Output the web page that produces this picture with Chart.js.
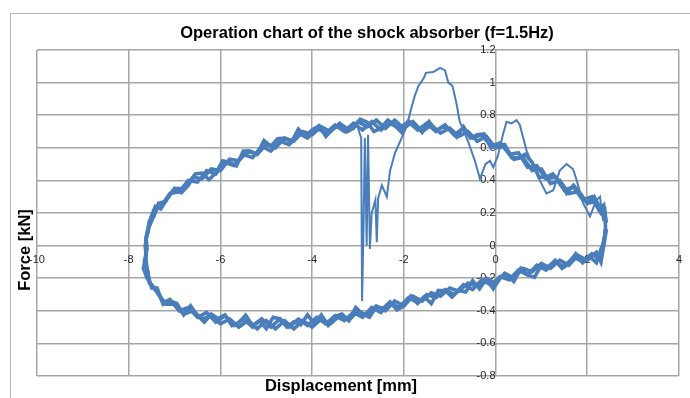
<!DOCTYPE html>
<html>
<head>
<meta charset="utf-8">
<script src="https://cdn.jsdelivr.net/npm/chart.js@4.4.1/dist/chart.umd.min.js"></script>
<style>
  html, body { margin: 0; padding: 0; background: #fff; }
  #wrap { width: 690px; height: 398px; }
</style>
</head>
<body>
<div id="wrap"><canvas id="myChart" width="690" height="398"></canvas></div>
<script>
// labels
const chartTitle = 'Operation chart of the shock absorber (f=1.5Hz)';
const xTitle = 'Displacement [mm]';
const yTitle = 'Force [kN]';

// cycle 1 - displacement [mm] / force [kN]
const disp1 = [2.40, 2.38, 2.30, 2.20, 2.00, 1.80, 1.60, 1.40, 1.20, 1.00, 0.80, 0.60, 0.40, 0.20, 0.00,
  -0.20, -0.40, -0.60, -0.80, -1.00, -1.20, -1.40, -1.60, -1.80, -2.00, -2.20, -2.40, -2.60, -2.80, -3.00,
  -3.20, -3.40, -3.60, -3.80, -4.00, -4.20, -4.40, -4.60, -4.80, -5.00, -5.20, -5.40, -5.60, -5.80, -6.00,
  -6.20, -6.40, -6.60, -6.80, -7.00, -7.20, -7.35, -7.45, -7.55, -7.62, -7.60, -7.66, -7.58, -7.55,
  -7.40, -7.25, -7.10, -6.90, -6.70, -6.50, -6.30, -6.10, -5.90, -5.70, -5.50, -5.30, -5.10, -4.90, -4.70,
  -4.50, -4.30, -4.10, -3.90, -3.70, -3.50, -3.30, -3.10, -2.90, -2.70, -2.50, -2.30, -2.10, -1.90, -1.70,
  -1.50, -1.30, -1.10, -0.90, -0.70, -0.50, -0.30, -0.10, 0.10, 0.30, 0.50, 0.70, 0.90, 1.10, 1.30,
  1.50, 1.70, 1.90, 2.10, 2.25, 2.32, 2.38, 2.40];
const force1 = [0.10, 0.22, 0.20, 0.27, 0.26, 0.33, 0.32, 0.40, 0.38, 0.47, 0.46, 0.54, 0.53, 0.61, 0.60,
  0.67, 0.64, 0.70, 0.67, 0.72, 0.69, 0.74, 0.70, 0.76, 0.72, 0.77, 0.72, 0.77, 0.73, 0.76,
  0.71, 0.75, 0.70, 0.73, 0.68, 0.70, 0.64, 0.66, 0.60, 0.62, 0.56, 0.58, 0.52, 0.53, 0.46,
  0.47, 0.41, 0.42, 0.35, 0.35, 0.27, 0.26, 0.18, 0.15, 0.05, -0.02, -0.10, -0.16, -0.23,
  -0.27, -0.35, -0.33, -0.40, -0.38, -0.44, -0.41, -0.47, -0.43, -0.49, -0.45, -0.50, -0.45, -0.50, -0.45,
  -0.50, -0.45, -0.49, -0.44, -0.48, -0.43, -0.46, -0.41, -0.44, -0.38, -0.41, -0.35, -0.38, -0.32, -0.35,
  -0.30, -0.32, -0.27, -0.30, -0.24, -0.27, -0.21, -0.24, -0.19, -0.21, -0.15, -0.18, -0.12, -0.15, -0.10,
  -0.13, -0.07, -0.10, -0.05, -0.08, -0.02, 0.06, 0.12];

// cycle 2
const disp2 = [2.42, 2.36, 2.25, 2.10, 1.90, 1.70, 1.50, 1.30, 1.10, 0.90, 0.70, 0.50, 0.30, 0.10, -0.10,
  -0.30, -0.50, -0.70, -0.90, -1.10, -1.30, -1.50, -1.70, -1.90, -2.10, -2.30, -2.50, -2.70, -2.90, -3.10,
  -3.30, -3.50, -3.70, -3.90, -4.10, -4.30, -4.50, -4.70, -4.90, -5.10, -5.30, -5.50, -5.70, -5.90, -6.10,
  -6.30, -6.50, -6.70, -6.90, -7.10, -7.30, -7.40, -7.50, -7.58, -7.64, -7.62, -7.68, -7.60,
  -7.48, -7.32, -7.18, -7.00, -6.80, -6.60, -6.40, -6.20, -6.00, -5.80, -5.60, -5.40, -5.20, -5.00, -4.80,
  -4.60, -4.40, -4.20, -4.00, -3.80, -3.60, -3.40, -3.20, -3.00, -2.80, -2.60, -2.40, -2.20, -2.00, -1.80,
  -1.60, -1.40, -1.20, -1.00, -0.80, -0.60, -0.40, -0.20, 0.00, 0.20, 0.40, 0.60, 0.80, 1.00, 1.20,
  1.40, 1.60, 1.80, 2.00, 2.20, 2.30, 2.36, 2.42];
const force2 = [0.14, 0.25, 0.22, 0.30, 0.28, 0.36, 0.34, 0.42, 0.41, 0.49, 0.48, 0.57, 0.56, 0.63, 0.61,
  0.68, 0.66, 0.72, 0.68, 0.74, 0.70, 0.75, 0.71, 0.76, 0.72, 0.75, 0.71, 0.76, 0.71, 0.75,
  0.70, 0.74, 0.69, 0.72, 0.66, 0.69, 0.62, 0.64, 0.58, 0.61, 0.54, 0.56, 0.49, 0.51, 0.44,
  0.46, 0.39, 0.40, 0.33, 0.32, 0.24, 0.22, 0.15, 0.10, 0.00, -0.06, -0.14, -0.20,
  -0.25, -0.31, -0.36, -0.36, -0.42, -0.40, -0.45, -0.43, -0.48, -0.45, -0.50, -0.46, -0.51, -0.46, -0.51,
  -0.46, -0.51, -0.46, -0.50, -0.45, -0.48, -0.43, -0.46, -0.40, -0.43, -0.37, -0.40, -0.34, -0.37, -0.31,
  -0.34, -0.29, -0.31, -0.26, -0.28, -0.23, -0.25, -0.20, -0.23, -0.17, -0.20, -0.14, -0.16, -0.11, -0.14,
  -0.09, -0.12, -0.06, -0.09, -0.04, -0.10, 0.00, 0.10];

// cycle 3
const disp3 = [2.38, 2.30, 2.15, 2.00, 1.85, 1.70, 1.55, 1.40, 1.25, 1.10, 0.95, 0.80, 0.65, 0.50, 0.35,
  0.20, 0.05, -0.10, -0.25, -0.40, -0.55, -0.70, -0.85, -1.00, -1.15, -1.30, -1.45, -1.60, -1.75, -1.90,
  -2.05, -2.20, -2.35, -2.50, -2.65, -2.80, -2.95, -3.10, -3.25, -3.40, -3.55, -3.70, -3.85, -4.00, -4.15,
  -4.30, -4.45, -4.60, -4.75, -4.90, -5.05, -5.20, -5.35, -5.50, -5.65, -5.80, -5.95, -6.10, -6.25, -6.40,
  -6.55, -6.70, -6.85, -7.00, -7.15, -7.30, -7.42, -7.52, -7.58, -7.62, -7.63, -7.61, -7.57,
  -7.50, -7.38, -7.25, -7.10, -6.95, -6.80, -6.65, -6.50, -6.35, -6.20, -6.05, -5.90, -5.75, -5.60, -5.45,
  -5.30, -5.15, -5.00, -4.85, -4.70, -4.55, -4.40, -4.25, -4.10, -3.95, -3.80, -3.65, -3.50, -3.35, -3.20,
  -3.05, -2.90, -2.75, -2.60, -2.45, -2.30, -2.15, -2.00, -1.85, -1.70, -1.55, -1.40, -1.25, -1.10, -0.95,
  -0.80, -0.65, -0.50, -0.35, -0.20, -0.05, 0.10, 0.25, 0.40, 0.55, 0.70, 0.85, 1.00, 1.15, 1.30,
  1.45, 1.60, 1.75, 1.90, 2.05, 2.20, 2.30, 2.36, 2.40];
const force3 = [0.17, 0.22, 0.30, 0.26, 0.32, 0.37, 0.32, 0.39, 0.44, 0.42, 0.42, 0.51, 0.56, 0.54, 0.54,
  0.62, 0.62, 0.60, 0.685, 0.68, 0.66, 0.73, 0.665, 0.71, 0.73, 0.705, 0.76, 0.695, 0.74, 0.765,
  0.695, 0.74, 0.77, 0.72, 0.70, 0.757, 0.775, 0.72, 0.697, 0.74, 0.715, 0.67, 0.735, 0.71, 0.67,
  0.715, 0.635, 0.66, 0.655, 0.61, 0.645, 0.56, 0.58, 0.58, 0.49, 0.51, 0.52, 0.445, 0.405, 0.445,
  0.44, 0.37, 0.325, 0.35, 0.295, 0.225, 0.24, 0.17, 0.08, 0.05, -0.05, -0.12, -0.19,
  -0.26, -0.26, -0.36, -0.34, -0.355, -0.425, -0.37, -0.43, -0.47, -0.42, -0.448, -0.425, -0.49, -0.475, -0.427,
  -0.49, -0.46, -0.51, -0.44, -0.45, -0.50, -0.468, -0.486, -0.425, -0.48, -0.425, -0.49, -0.435, -0.42, -0.46,
  -0.38, -0.42, -0.44, -0.375, -0.385, -0.345, -0.395, -0.37, -0.31, -0.355, -0.315, -0.355, -0.275, -0.275, -0.315,
  -0.275, -0.285, -0.215, -0.265, -0.205, -0.265, -0.20, -0.18, -0.22, -0.14, -0.18, -0.195, -0.12, -0.13, -0.09,
  -0.14, -0.11, -0.05, -0.105, -0.065, -0.105, -0.02, 0.02, 0.10];

// single disturbed pass (thin line)
const disp4 = [2.35, 2.31, 2.28, 2.20, 2.06, 1.91, 1.77, 1.69, 1.55, 1.40, 1.26, 1.11, 0.93, 0.68, 0.53,
  0.46, 0.35, 0.24, 0.17, 0.05, -0.05, -0.12, -0.22, -0.34, -0.45, -0.60, -0.70, -0.78, -0.85, -0.94,
  -1.03, -1.10, -1.21, -1.36, -1.52, -1.56, -1.68, -1.76, -1.83, -1.94, -2.08, -2.19, -2.30, -2.37, -2.48,
  -2.56, -2.59, -2.62, -2.70, -2.74, -2.78, -2.81, -2.85, -2.88, -2.91, -2.93, -3.00];
const force4 = [0.15, 0.22, 0.30, 0.28, 0.18, 0.26, 0.40, 0.47, 0.50, 0.46, 0.34, 0.32, 0.42, 0.58, 0.74,
  0.77, 0.75, 0.76, 0.69, 0.55, 0.48, 0.52, 0.50, 0.41, 0.52, 0.64, 0.71, 0.76, 0.87, 0.98,
  1.00, 1.075, 1.09, 1.065, 1.06, 1.03, 0.98, 0.92, 0.85, 0.73, 0.64, 0.57, 0.46, 0.30, 0.37,
  0.29, 0.02, 0.28, 0.20, -0.02, 0.68, 0.00, 0.66, 0.10, -0.34, 0.66, 0.72];

function toPoints(xs, ys) {
  return xs.map((x, i) => ({ x: x, y: ys[i] }));
}

const lineColor = '#4a7ebb';
const fontFamily = '"Liberation Sans", Arial, sans-serif';

const textPlugin = {
  id: 'texts',
  beforeDraw(chart) {
    const c = chart.ctx;
    c.save();
    c.fillStyle = '#fff';
    c.fillRect(0, 0, chart.width, chart.height);
    c.strokeStyle = '#b8b8b8';
    c.lineWidth = 1;
    c.strokeRect(10.5, 13.5, 720, 420);
    c.restore();
  },
  afterDraw(chart) {
    const c = chart.ctx;
    c.save();
    c.fillStyle = '#000';
    c.textAlign = 'center';
    c.textBaseline = 'middle';
    c.font = 'bold 16.5px ' + fontFamily;
    c.fillText(chartTitle, 367, 33);
    c.fillText(xTitle, 341, 386);
    c.translate(25, 250);
    c.rotate(-Math.PI / 2);
    c.fillText(yTitle, 0, 0);
    c.restore();
  }
};

const ctx = document.getElementById('myChart');
new Chart(ctx, {
  type: 'scatter',
  data: {
    datasets: [
      { data: toPoints(disp1, force1), showLine: true, borderColor: lineColor, borderWidth: 3.6, pointRadius: 0 },
      { data: toPoints(disp2, force2), showLine: true, borderColor: lineColor, borderWidth: 3.6, pointRadius: 0 },
      { data: toPoints(disp3, force3), showLine: true, borderColor: lineColor, borderWidth: 3.6, pointRadius: 0 },
      { data: toPoints(disp4, force4), showLine: true, borderColor: lineColor, borderWidth: 2, pointRadius: 0 }
    ]
  },
  options: {
    responsive: false,
    animation: false,
    devicePixelRatio: 1,
    layout: { padding: { left: 37, right: 11, top: 50, bottom: 22 } },
    plugins: { legend: { display: false }, title: { display: false }, tooltip: { enabled: false } },
    scales: {
      x: {
        type: 'linear',
        position: { y: 0 },
        min: -10, max: 4,
        grid: { color: '#a6a6a6', lineWidth: 1.5, drawTicks: false },
        border: { display: false },
        ticks: { stepSize: 2, padding: 8, color: '#262626', font: { size: 11, family: fontFamily } }
      },
      y: {
        type: 'linear',
        position: { x: 0 },
        min: -0.8, max: 1.2,
        grid: { color: '#a6a6a6', lineWidth: 1.5, drawTicks: false },
        border: { display: false },
        ticks: {
          stepSize: 0.2, padding: 11, color: '#262626',
          font: { size: 11, family: fontFamily },
          callback: v => String(Math.round(v * 10) / 10)
        }
      }
    }
  },
  plugins: [textPlugin]
});
</script>
</body>
</html>
